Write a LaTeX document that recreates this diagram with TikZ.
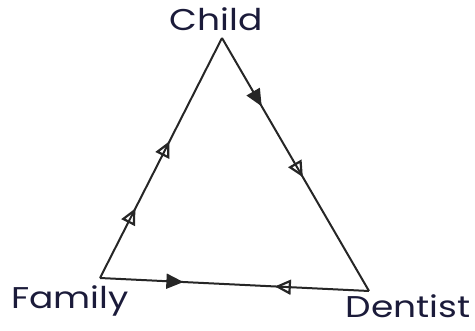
\documentclass[tikz,border=0pt]{standalone}
\usepackage{fontspec}
\setmainfont{Poppins}
\usetikzlibrary{arrows.meta,decorations.markings}
\definecolor{ink}{HTML}{1B1B3A}
\definecolor{pencil}{HTML}{262626}
\tikzset{
  edge/.style={draw=pencil, line width=2pt},
  lbl/.style={text=ink, font=\fontsize{30}{34}\selectfont, inner sep=0pt, xscale=1.2},
  fwd/.style={postaction={decorate, decoration={markings, mark=at position #1 with {\arrow[pencil]{Triangle[open, length=16pt, width=15pt, line width=2.2pt]}}}}},
  fwdfill/.style={postaction={decorate, decoration={markings, mark=at position #1 with {\arrow[pencil]{Triangle[length=17pt, width=15pt]}}}}},
  bwd/.style={postaction={decorate, decoration={markings, mark=at position #1 with {\arrowreversed[pencil]{Triangle[open, length=16pt, width=15pt, line width=2.2pt]}}}}}
}
\begin{document}
\begin{tikzpicture}[x=1pt, y=-1pt]
  \useasboundingbox (0,0) rectangle (475,331);
  \coordinate (C) at (222,38);
  \coordinate (F) at (100,278);
  \coordinate (D) at (369,291);
  \node[lbl] (child) at (216,19) {Child};
  \node[lbl] (family) at (70,301) {Family};
  \node[lbl] (dentist) at (408,306) {Dentist};
  \draw[edge, fwdfill=0.27, fwd=0.55] (C) -- (D);
  \draw[edge, fwd=0.29, fwd=0.57] (F) -- (C);
  \draw[edge, fwdfill=0.31, bwd=0.65] (F) -- (D);
\end{tikzpicture}
\end{document}
